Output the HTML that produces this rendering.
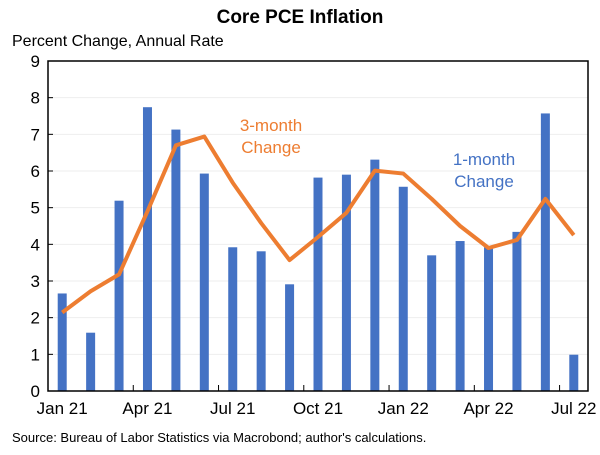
<!DOCTYPE html>
<html><head><meta charset="utf-8"><style>
body{margin:0;background:#fff;width:600px;height:450px;overflow:hidden;font-family:"Liberation Sans",Arial,sans-serif}
</style></head><body>
<svg width="600" height="450" xmlns="http://www.w3.org/2000/svg">
<text x="300" y="23" text-anchor="middle" font-size="19" font-weight="bold">Core PCE Inflation</text>
<text x="12" y="46" font-size="16">Percent Change, Annual Rate</text>
<g id="grid"></g><g id="bars"></g><g id="line"></g><g id="axes"></g>
<text x="271" y="131" text-anchor="middle" font-size="17" fill="#ED7D31">3-month</text>
<text x="271" y="153" text-anchor="middle" font-size="17" fill="#ED7D31">Change</text>
<text x="484" y="165" text-anchor="middle" font-size="17" fill="#4472C4">1-month</text>
<text x="484" y="187" text-anchor="middle" font-size="17" fill="#4472C4">Change</text>
<text x="12" y="442" font-size="13">Source: Bureau of Labor Statistics via Macrobond; author's calculations.</text>
</svg>
<script>
const categories=["Jan 21","Feb 21","Mar 21","Apr 21","May 21","Jun 21","Jul 21","Aug 21","Sep 21","Oct 21","Nov 21","Dec 21","Jan 22","Feb 22","Mar 22","Apr 22","May 22","Jun 22","Jul 22"];
const oneMonth=[2.66,1.59,5.19,7.74,7.13,5.93,3.92,3.81,2.91,5.82,5.9,6.31,5.57,3.7,4.09,3.92,4.34,7.57,0.99];
const threeMonth=[2.14,2.72,3.18,4.9,6.7,6.94,5.68,4.58,3.57,4.2,4.86,6.01,5.93,5.24,4.5,3.9,4.12,5.24,4.25];
const yTicks=[0,1,2,3,4,5,6,7,8,9];
const xLabelIdx=[0,3,6,9,12,15,18];
const NS="http://www.w3.org/2000/svg";
const L=48,R=588,T=61,B=391,band=(R-L)/categories.length;
const x=i=>L+band*(i+0.5), y=v=>B-(v/9)*(B-T);
function mk(t,a,p){const e=document.createElementNS(NS,t);for(const k in a)e.setAttribute(k,a[k]);p.appendChild(e);return e;}
const g=document.getElementById('grid'),bg=document.getElementById('bars'),lg=document.getElementById('line'),ax=document.getElementById('axes');
yTicks.forEach(v=>{
 if(v>0&&v<9){const gl=mk('line',{x1:L,x2:R,y1:y(v),y2:y(v),stroke:'#eeeeee','stroke-width':1},g);
 }
 const t=mk('text',{x:L-8,y:y(v)+6,'text-anchor':'end','font-size':17},ax);t.textContent=v;
 
 mk('line',{x1:L,x2:L+5,y1:y(v),y2:y(v),stroke:'#000'},ax);
});
oneMonth.forEach((v,i)=>{const r=mk('rect',{x:x(i)-4.5,y:y(v),width:9,height:B-y(v),fill:'#4472C4'},bg);
 });
const pl=mk('polyline',{points:threeMonth.map((v,i)=>x(i)+','+y(v)).join(' '),fill:'none',stroke:'#ED7D31','stroke-width':4,'stroke-linejoin':'round'},lg);

const box=mk('rect',{x:L,y:T,width:R-L,height:B-T,fill:'none',stroke:'#000','stroke-width':1.5},ax);

for(let i=3;i<categories.length;i+=3){mk('line',{x1:L+band*i,x2:L+band*i,y1:B,y2:B-6,stroke:'#000'},ax);}
xLabelIdx.forEach(i=>{const t=mk('text',{x:x(i),y:B+23,'text-anchor':'middle','font-size':17},ax);t.textContent=categories[i];
 });
</script>
</body></html>
